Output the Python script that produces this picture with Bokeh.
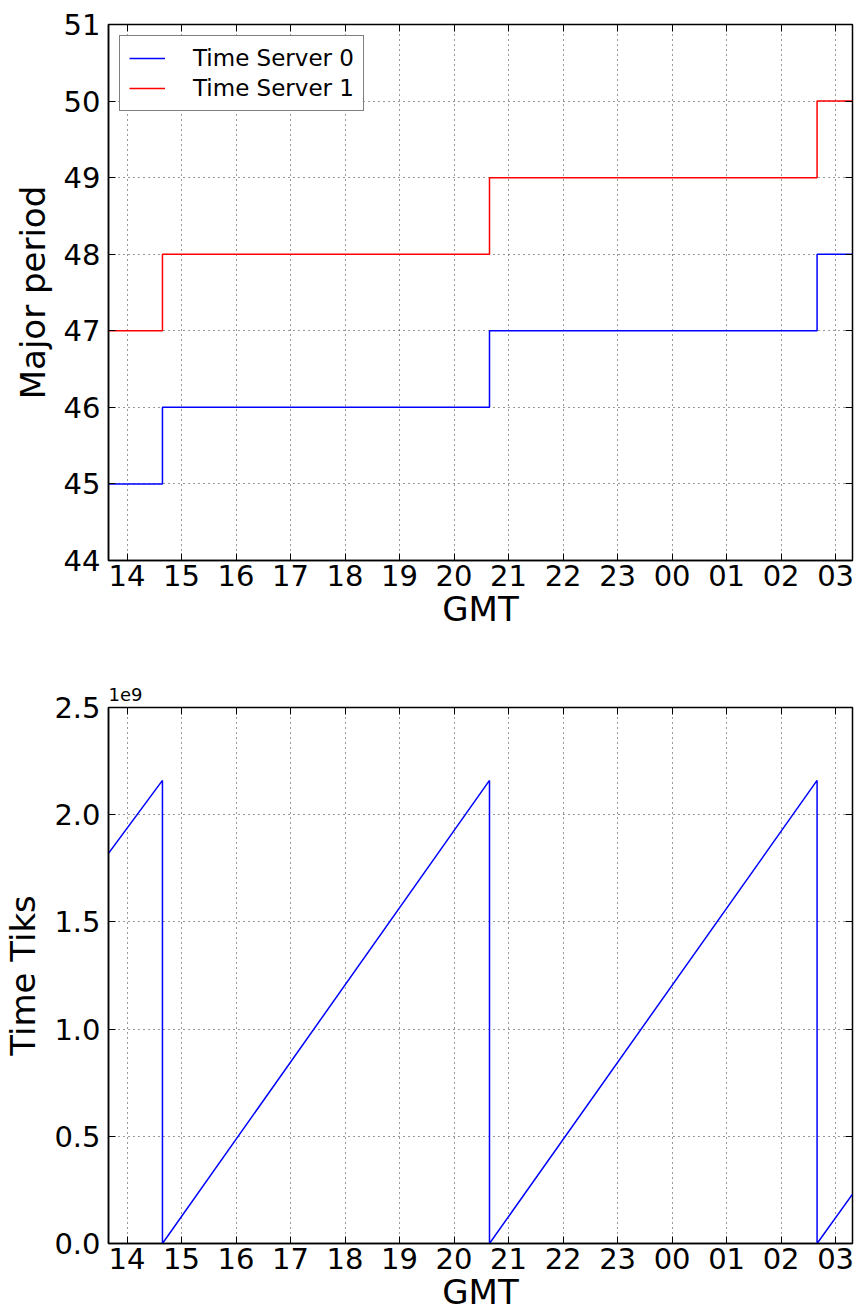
from bokeh.plotting import figure
from bokeh.layouts import column
from bokeh.models import FixedTicker, LinearAxis, Range1d, Legend, LegendItem
from bokeh.embed import file_html
from bokeh.resources import INLINE

# GMT hours as a continuous axis (24 = 00, 25 = 01, ...)
hour_ticks = [14, 15, 16, 17, 18, 19, 20, 21, 22, 23, 24, 25, 26, 27]
hour_labels = ["14", "15", "16", "17", "18", "19", "20", "21", "22", "23",
               "00", "01", "02", "03"]
x_start, x_end = 13.66, 27.31

# Major period of each time server (step changes)
period_t = [13.66, 14.65, 20.65, 26.66, 27.31]
server0_period = [45, 46, 47, 48, 48]
server1_period = [47, 48, 49, 50, 50]
period_ticks = [44, 45, 46, 47, 48, 49, 50, 51]

# Time tiks counter (wraps around)
tiks_t = [13.66, 14.65, 14.65, 20.65, 20.65, 26.66, 26.66, 27.31]
tiks_val = [1.82e9, 2.16e9, 0.0, 2.16e9, 0.0, 2.16e9, 0.0, 0.23e9]
tiks_ticks = [0.0, 0.5e9, 1.0e9, 1.5e9, 2.0e9, 2.5e9]
tiks_labels = ["0.0", "0.5", "1.0", "1.5", "2.0", "2.5"]

FONT = "DejaVu Sans"
TICK_PX = "29px"
LABEL_PX = "34px"


def style_axes(p, yticks, ylabels, ylabel):
    p.outline_line_color = "black"
    p.outline_line_width = 1.5
    p.background_fill_color = "white"
    p.border_fill_color = "white"

    xt = FixedTicker(ticks=hour_ticks)
    yt = FixedTicker(ticks=yticks)

    for ax, ticker, overrides in ((p.xaxis[0], xt, dict(zip(hour_ticks, hour_labels))),
                                  (p.yaxis[0], yt, dict(zip(yticks, ylabels)))):
        ax.ticker = ticker
        ax.major_label_overrides = overrides
        ax.major_label_text_font = FONT
        ax.major_label_text_font_size = TICK_PX
        ax.major_label_text_color = "black"
        ax.axis_label_text_font = FONT
        ax.axis_label_text_font_size = LABEL_PX
        ax.axis_label_text_font_style = "normal"
        ax.axis_label_text_color = "black"
        ax.axis_line_color = "black"
        ax.axis_line_width = 1.5
        ax.major_tick_in = 7
        ax.major_tick_out = 0
        ax.major_tick_line_color = "black"
        ax.major_tick_line_width = 1
        ax.minor_tick_line_color = None

    p.xaxis[0].axis_label = "GMT"
    p.xaxis[0].major_label_standoff = 4
    p.xaxis[0].axis_label_standoff = 0
    p.yaxis[0].axis_label = ylabel
    p.yaxis[0].major_label_standoff = 8
    p.yaxis[0].axis_label_standoff = 8

    # tick marks on the top and right edges of the frame
    for loc, ticker in (("above", xt), ("right", yt)):
        ax = LinearAxis(ticker=ticker)
        ax.major_label_overrides = {t: "" for t in ticker.ticks}
        ax.major_label_text_font_size = "1px"
        ax.major_label_standoff = 0
        ax.axis_line_color = None
        ax.major_tick_in = 7
        ax.major_tick_out = 0
        ax.major_tick_line_color = "black"
        ax.minor_tick_line_color = None
        p.add_layout(ax, loc)

    p.xgrid.ticker = xt
    p.ygrid.ticker = yt
    for g in (p.xgrid[0], p.ygrid[0]):
        g.grid_line_color = "#333333"
        g.grid_line_width = 1
        g.grid_line_dash = "1 4"


# --- Major period ---------------------------------------------------------
p1 = figure(frame_width=744, frame_height=536, output_backend="svg",
            toolbar_location=None, x_range=Range1d(x_start, x_end),
            y_range=Range1d(44, 51), min_border_left=107, min_border_top=24,
            min_border_right=8, min_border_bottom=80)
style_axes(p1, period_ticks, [str(v) for v in period_ticks], "Major period")

r0 = p1.step(period_t, server0_period, mode="after", line_color="#0000ff", line_width=1.5)
r1 = p1.step(period_t, server1_period, mode="after", line_color="#ff0000", line_width=1.5)

legend = Legend(items=[LegendItem(label="Time Server 0", renderers=[r0]),
                       LegendItem(label="Time Server 1", renderers=[r1])],
                location="top_left", margin=11, padding=9, spacing=4,
                glyph_width=36, label_standoff=28,
                label_text_font=FONT, label_text_font_size="23px",
                label_text_color="black",
                border_line_color="black", border_line_width=1.5,
                background_fill_color="white", background_fill_alpha=1)
p1.add_layout(legend)

# --- Time tiks ------------------------------------------------------------
p2 = figure(frame_width=744, frame_height=536, output_backend="svg",
            toolbar_location=None, x_range=Range1d(x_start, x_end),
            y_range=Range1d(0, 2.5e9), min_border_left=107, min_border_top=67,
            min_border_right=8, min_border_bottom=67, title="1e9")
style_axes(p2, tiks_ticks, tiks_labels, "Time Tiks")
p2.title.align = "left"
p2.title.text_font = FONT
p2.title.text_font_size = "18px"
p2.title.text_font_style = "normal"
p2.title.text_color = "black"
p2.title.standoff = 14

p2.line(tiks_t, tiks_val, line_color="#0000ff", line_width=1.5)

layout = column(p1, p2, spacing=0)
open("out.html", "w").write(file_html(layout, INLINE))
